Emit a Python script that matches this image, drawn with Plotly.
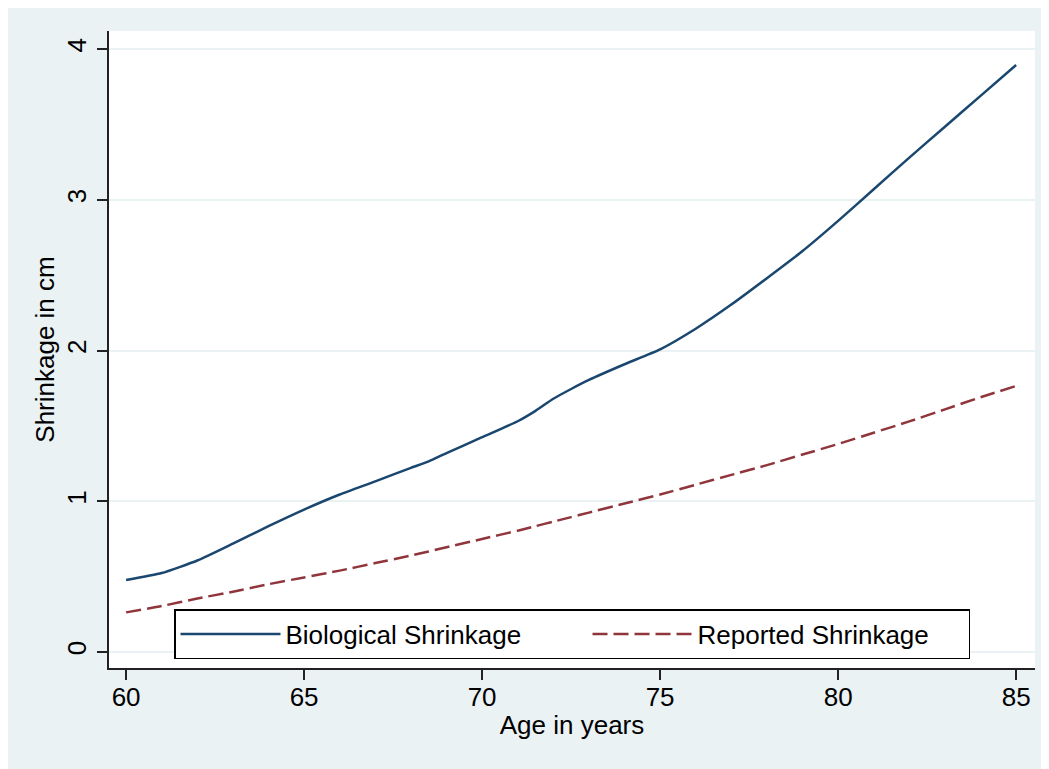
import plotly.graph_objects as go

# ---- data ----
age = [60, 61, 62, 63, 64, 65, 66, 67, 68, 68.5, 69, 70, 71, 71.5, 72, 72.5, 73,
       74, 75, 76, 77, 78, 79, 80, 81, 82, 83, 84, 85]
biological = [0.478, 0.524, 0.607, 0.719, 0.835, 0.945, 1.045, 1.132, 1.222, 1.265,
              1.32, 1.425, 1.531, 1.60, 1.68, 1.745, 1.805, 1.909, 2.008, 2.145,
              2.305, 2.48, 2.66, 2.86, 3.07, 3.28, 3.485, 3.69, 3.894]
reported = [0.263, 0.305, 0.355, 0.40, 0.45, 0.495, 0.54, 0.59, 0.64, 0.667,
            0.695, 0.75, 0.805, 0.835, 0.865, 0.895, 0.925, 0.985, 1.045, 1.11,
            1.175, 1.24, 1.31, 1.38, 1.455, 1.53, 1.61, 1.69, 1.765]
series_names = ["Biological Shrinkage", "Reported Shrinkage"]
x_ticks = [60, 65, 70, 75, 80, 85]
y_ticks = [0, 1, 2, 3, 4]
x_title = "Age in years"
y_title = "Shrinkage in cm"

BLUE = "#1a476f"
RED = "#90353b"
BG = "#eaf2f3"
FONT = "Liberation Sans, Arial, Helvetica, sans-serif"

fig = go.Figure()
fig.add_trace(go.Scatter(x=age, y=biological, mode="lines", name=series_names[0],
                         line=dict(color=BLUE, width=2.5, shape="spline", smoothing=0.5),
                         legendwidth=297))
fig.add_trace(go.Scatter(x=age, y=reported, mode="lines", name=series_names[1],
                         line=dict(color=RED, width=2.5, dash="15px,6px",
                                   shape="spline", smoothing=0.5),
                         legendwidth=266))

fig.update_layout(
    width=1041, height=761,
    margin=dict(l=101, r=14, t=23, b=101),
    paper_bgcolor=BG,
    plot_bgcolor="white",
    font=dict(family=FONT, size=26, color="black"),
    showlegend=True,
    legend=dict(
        orientation="h",
        x=0.0702, xanchor="left",
        y=0.0926, yanchor="top",
        bgcolor="white",
        bordercolor="black",
        borderwidth=1.5,
        itemwidth=100,
        font=dict(size=26),
    ),
)

fig.update_xaxes(
    range=[59.52, 85.53], tickvals=x_ticks, ticks="outside", ticklen=10,
    tickwidth=1.5, tickcolor="#222", showline=True, linecolor="#222", linewidth=1.5,
    showgrid=False, zeroline=False, tickfont=dict(size=26), ticklabelstandoff=-5,
    title=dict(text=x_title, font=dict(size=26), standoff=5),
)
fig.update_yaxes(
    range=[-0.106, 4.12], tickvals=y_ticks, ticks="outside", ticklen=10,
    tickwidth=1.5, tickcolor="#222", showline=True, linecolor="#222", linewidth=1.5,
    showgrid=True, gridcolor=BG, gridwidth=2, zeroline=False, tickangle=-90,
    tickfont=dict(size=26), ticklabelstandoff=1,
    title=dict(text=y_title, font=dict(size=26), standoff=0),
)

fig.write_html("out.html")
